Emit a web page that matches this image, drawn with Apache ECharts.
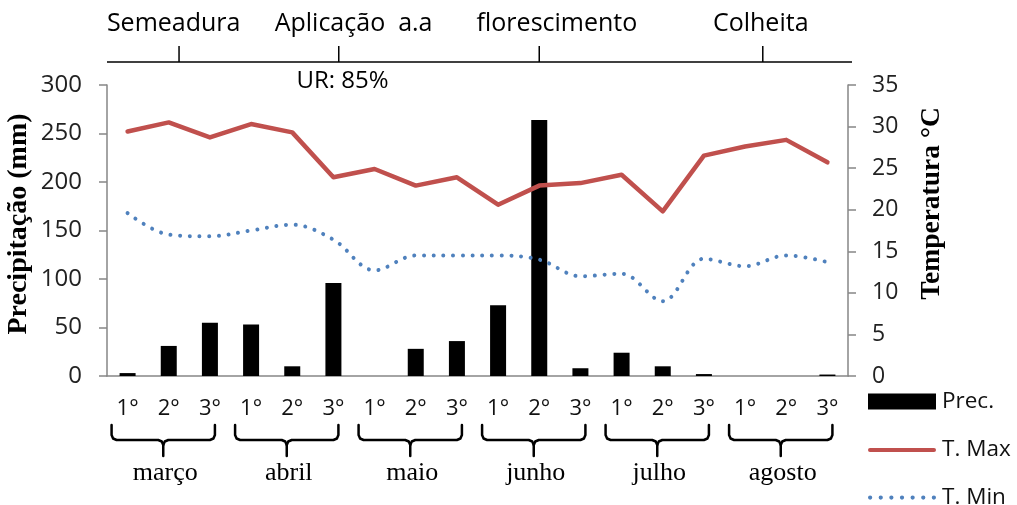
<!DOCTYPE html>
<html>
<head>
<meta charset="utf-8">
<script src="https://cdn.jsdelivr.net/npm/echarts@6/dist/echarts.min.js"></script>
<style>html,body{margin:0;padding:0;background:#fff}#c{width:1017px;height:505px}</style>
</head>
<body>
<div id="c"></div>
<script>
// ---- data ----
const months = ['março', 'abril', 'maio', 'junho', 'julho', 'agosto'];
const decendios = ['1°', '2°', '3°'];
const categories = months.flatMap(m => decendios.map(d => m + ' ' + d));
const prec = [3, 31, 55, 53, 10, 96, 0, 28, 36, 73, 264, 8, 24, 10, 2, 0, 0, 1.5];
const tMax = [29.4, 30.5, 28.7, 30.3, 29.3, 23.9, 24.9, 22.9, 23.9, 20.6, 22.9, 23.2, 24.2, 19.8, 26.5, 27.6, 28.4, 25.7];
const tMin = [19.6, 17.0, 16.8, 17.5, 18.2, 16.4, 12.7, 14.5, 14.5, 14.5, 14.0, 12.0, 12.3, 9.0, 14.1, 13.2, 14.5, 13.7];
const precAxis = { min: 0, max: 300, interval: 50 };
const tempAxis = { min: 0, max: 35, interval: 5 };
// phase annotations: position in category-index units
const phaseNames = ['Semeadura', 'Aplicação  a.a', 'florescimento', 'Colheita'];
const phaseTickPos = [1.25, 5.13, 10.0, 15.43];
const phaseLabelPos = [1.12, 5.49, 10.43, 15.38];
const urText = 'UR: 85%';
const urPos = 5.22;

const sans = '"Open Sans", "Noto Sans", sans-serif';
const serif = '"Liberation Serif", "DejaVu Serif", serif';
const axisGray = '#868686';

// legend icons
const lineIcon = 'path://M2,0 L67,0 A2,2 0 0,1 67,4 L2,4 A2,2 0 0,1 2,0 Z';
let dots = '';
for (let i = 0; i < 7; i++) {
  const cx = 2 + 10 * i;
  dots += `M${cx - 2},2 A2,2 0 1,0 ${cx + 2},2 A2,2 0 1,0 ${cx - 2},2 Z `;
}
const dotIcon = 'path://' + dots.trim();

const chart = echarts.init(document.getElementById('c'), null, { renderer: 'canvas' });
const grid = { left: 107, right: 169, top: 85, bottom: 129, containLabel: false, outerBoundsMode: 'none' };

const legendBase = {
  orient: 'vertical',
  left: 868,
  padding: 0,
  itemWidth: 68,
  itemHeight: 16,
  textStyle: { fontFamily: sans, fontSize: 22.5, color: '#111', padding: [0, 0, 0, 1] }
};

chart.setOption({
  animation: false,
  grid: grid,
  legend: [
    Object.assign({}, legendBase, { top: 390, data: [{ name: 'Prec.', icon: 'rect' }] }),
    Object.assign({}, legendBase, { top: 438.5, data: [{ name: 'T. Max', icon: lineIcon, itemStyle: { color: '#C0504D', borderWidth: 0 } }] }),
    Object.assign({}, legendBase, { top: 486, data: [{ name: 'T. Min', icon: dotIcon, itemStyle: { color: '#4F81BD', borderWidth: 0 } }] })
  ],
  xAxis: {
    type: 'category',
    data: categories,
    axisLine: { lineStyle: { color: axisGray, width: 1.5 } },
    axisTick: { show: false },
    axisLabel: {
      interval: 0,
      margin: 22,
      fontFamily: sans,
      fontSize: 22,
      color: '#111',
      formatter: v => v.split(' ')[1]
    }
  },
  yAxis: [
    {
      type: 'value',
      min: precAxis.min, max: precAxis.max, interval: precAxis.interval,
      name: 'Precipitação (mm)',
      nameLocation: 'middle',
      nameRotate: 90,
      nameGap: 74,
      nameMoveOverlap: false,
      nameTextStyle: { fontFamily: serif, fontWeight: 'bold', fontSize: 28, color: '#000', padding: [0, 0, 0, 13] },
      axisLine: { show: true, lineStyle: { color: axisGray, width: 1.5 } },
      axisTick: { show: true, length: 8, lineStyle: { color: axisGray, width: 1.5 } },
      axisLabel: { margin: 25, fontFamily: sans, fontSize: 24, color: '#222' },
      splitLine: { show: false }
    },
    {
      type: 'value',
      min: tempAxis.min, max: tempAxis.max, interval: tempAxis.interval,
      name: 'Temperatura °C',
      nameLocation: 'middle',
      nameRotate: 90,
      nameGap: 70,
      nameTextStyle: { fontFamily: serif, fontWeight: 'bold', fontSize: 27.5, color: '#000', padding: [0, 0, 0, 54] },
      axisLine: { show: true, lineStyle: { color: axisGray, width: 1.5 } },
      axisTick: { show: true, length: 8, lineStyle: { color: axisGray, width: 1.5 } },
      axisLabel: { margin: 24, fontFamily: sans, fontSize: 23, color: '#222' },
      splitLine: { show: false }
    }
  ],
  series: [
    {
      name: 'Prec.',
      type: 'bar',
      data: prec,
      yAxisIndex: 0,
      barWidth: 16,
      itemStyle: { color: '#000' }
    },
    {
      name: 'T. Max',
      type: 'line',
      data: tMax,
      yAxisIndex: 1,
      symbol: 'none',
      lineStyle: { color: '#C0504D', width: 4.5, cap: 'round', join: 'round' },
      itemStyle: { color: '#C0504D' }
    },
    {
      name: 'T. Min',
      type: 'line',
      data: tMin,
      yAxisIndex: 1,
      symbol: 'none',
      smooth: 0.35,
      lineStyle: { color: '#4F81BD', width: 4, type: [0.01, 9.7], cap: 'round' },
      itemStyle: { color: '#4F81BD' }
    }
  ]
});

// ---- annotations (braces, month names, phase line) positioned from the axis ----
const p0 = chart.convertToPixel({ xAxisIndex: 0 }, categories[0]);
const p1 = chart.convertToPixel({ xAxisIndex: 0 }, categories[1]);
const step = p1 - p0;
const px = i => p0 + i * step;
const gridLeftPx = p0 - step / 2;
const gridRightPx = px(categories.length - 1) + step / 2;

const graphics = [];
const braceStyle = { stroke: '#000', lineWidth: 2.5, fill: null, lineCap: 'round', lineJoin: 'round' };
months.forEach((m, k) => {
  const x1 = px(3 * k) - 16;
  const x2 = px(3 * k + 2) + 5;
  const mid = (x1 + x2) / 2;
  const yTop = 425, yH = 440, yStem = 456;
  graphics.push({
    type: 'polyline',
    shape: { points: [[x1, yTop], [x1, yH - 5], [x1 + 1.5, yH - 1.5], [x1 + 5, yH], [mid - 5, yH], [mid - 1.5, yH + 1.5], [mid, yH + 5], [mid, yStem]] },
    style: braceStyle, silent: true
  });
  graphics.push({
    type: 'polyline',
    shape: { points: [[mid, yH + 5], [mid + 1.5, yH + 1.5], [mid + 5, yH], [x2 - 5, yH], [x2 - 1.5, yH - 1.5], [x2, yH - 5], [x2, yTop]] },
    style: braceStyle, silent: true
  });
  graphics.push({
    type: 'text',
    x: mid + 2, y: 473,
    style: { text: m, font: '26px ' + serif, fill: '#000', align: 'center', verticalAlign: 'middle' },
    silent: true
  });
});
graphics.push({
  type: 'line',
  shape: { x1: gridLeftPx, y1: 62, x2: gridRightPx + 4, y2: 62 },
  style: { stroke: '#000', lineWidth: 1.5 },
  silent: true
});
phaseTickPos.forEach(t => {
  const x = px(t);
  graphics.push({
    type: 'line',
    shape: { x1: x, y1: 46, x2: x, y2: 62 },
    style: { stroke: '#000', lineWidth: 1.5 },
    silent: true
  });
});
phaseNames.forEach((n, i) => {
  graphics.push({
    type: 'text',
    x: px(phaseLabelPos[i]), y: 24,
    style: { text: n, font: '25px ' + sans, fill: '#000', align: 'center', verticalAlign: 'middle' },
    silent: true
  });
});
graphics.push({
  type: 'text',
  x: px(urPos), y: 81,
  style: { text: urText, font: '24px ' + sans, fill: '#000', align: 'center', verticalAlign: 'middle' },
  silent: true
});

chart.setOption({ graphic: { elements: graphics } });
</script>
</body>
</html>
